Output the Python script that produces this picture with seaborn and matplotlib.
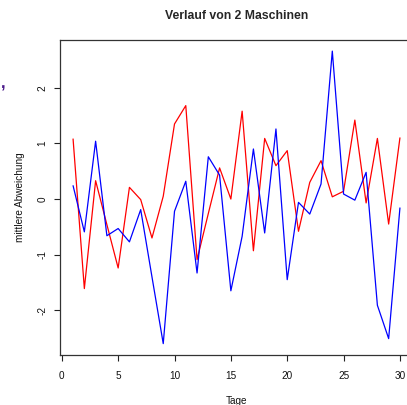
import matplotlib
matplotlib.use("Agg")
import matplotlib.pyplot as plt
import pandas as pd
import seaborn as sns

days = list(range(1, 31))
maschine_rot = [1.08, -1.61, 0.33, -0.46, -1.24, 0.21, -0.01, -0.70, 0.05, 1.35,
                1.68, -1.09, -0.26, 0.56, 0.00, 1.58, -0.93, 1.09, 0.60, 0.87,
                -0.58, 0.30, 0.69, 0.04, 0.14, 1.42, -0.07, 1.09, -0.45, 1.10]
maschine_blau = [0.24, -0.59, 1.04, -0.66, -0.53, -0.77, -0.19, -1.40, -2.60, -0.22,
                 0.32, -1.33, 0.76, 0.43, -1.65, -0.67, 0.90, -0.61, 1.26, -1.45,
                 -0.06, -0.27, 0.27, 2.66, 0.09, -0.02, 0.48, -1.91, -2.51, -0.16]
x_ticks = [0, 5, 10, 15, 20, 25, 30]
y_ticks = [-2, -1, 0, 1, 2]

df = pd.DataFrame({"Tage": days, "rot": maschine_rot, "blau": maschine_blau})

sns.set_theme(style="ticks")
plt.rcParams["font.family"] = ["Liberation Sans", "DejaVu Sans"]

W, H = 407, 405
fig = plt.figure(figsize=(W / 100, H / 100), dpi=100)
ax = fig.add_axes([60 / W, 1 - 355.3 / H, (413 - 60) / W, (355.3 - 40) / H])

sns.lineplot(data=df, x="Tage", y="rot", color="red", lw=0.9, ax=ax)
sns.lineplot(data=df, x="Tage", y="blau", color="blue", lw=0.9, ax=ax)

ax.set_xlim(-0.16, 31.16)
ax.set_ylim(-2.81, 2.86)
ax.set_xticks(x_ticks)
ax.set_yticks(y_ticks)
ax.set_yticklabels([str(v) for v in y_ticks], rotation=90, va="center")
ax.tick_params(axis="both", labelsize=7.2, length=4, width=0.8, color="#222222",
               labelcolor="#111111")
ax.tick_params(axis="x", pad=7)
ax.tick_params(axis="y", pad=5)
for s in ax.spines.values():
    s.set_visible(True)
    s.set_linewidth(0.9)
    s.set_color("#333333")

ax.set_xlabel("Tage", fontsize=7.2, labelpad=11, color="#111111")
ax.set_ylabel("mittlere Abweichung", fontsize=7.2, labelpad=9, color="#111111")
ax.set_title("Verlauf von 2 Maschinen", fontsize=8.8, fontweight="bold", pad=15)

# kleiner violetter Rest links oben
fig.text(1 / W, 1 - 84 / H, ",", color="#4b1a8a", fontsize=12, fontweight="bold",
         ha="left", va="center")

fig.savefig("out.png", dpi=100)
